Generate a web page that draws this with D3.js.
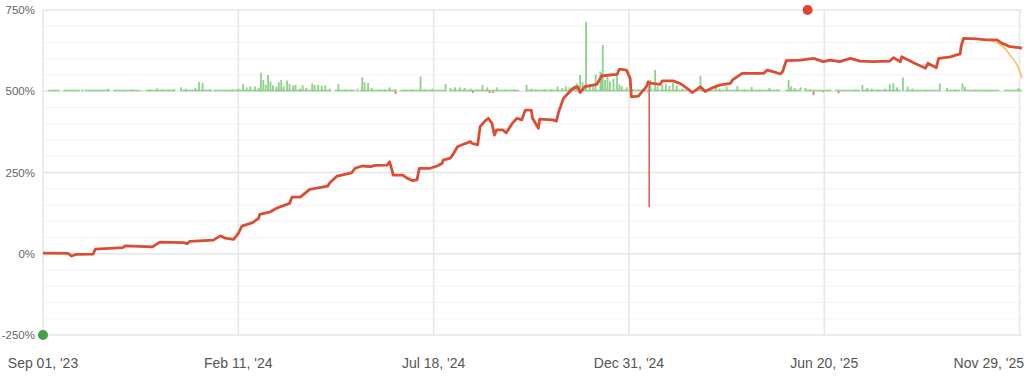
<!DOCTYPE html>
<html>
<head>
<meta charset="utf-8">
<script src="https://cdn.jsdelivr.net/npm/d3@7/dist/d3.min.js"></script>
<style>
  html, body { margin: 0; padding: 0; background: #fff; }
  svg { display: block; font-family: "Liberation Sans", Arial, sans-serif; }
</style>
</head>
<body>
<svg id="chart" width="1024" height="376"></svg>
<script>
// x values are day offsets from Sep 01 '23 on an evenly spaced axis
const tickLabels = ["Sep 01, '23", "Feb 11, '24", "Jul 18, '24", "Dec 31, '24", "Jun 20, '25", "Nov 29, '25"];
const tickDays = [0, 164, 328, 492, 656, 820];
const yMajor = [-250, 0, 250, 500, 750];

// cumulative return, %
const equityDays = [0, 21, 24, 28, 42, 44, 67, 69, 92, 98, 118, 121, 123, 143, 149, 153, 160, 164, 167, 176, 181, 182, 191, 196, 207, 209, 216,
  224, 239, 241, 247, 259, 262, 268, 275, 279, 289, 291, 293, 294, 302, 306, 310, 314, 316, 325, 331, 335, 336, 342, 344, 348, 353, 359, 360, 365,
  367, 371, 374, 377, 379, 381, 386, 389, 394, 398, 402, 405, 410, 411, 416, 417, 428, 431, 433, 437, 441, 445, 449, 451, 455, 465, 469, 476,
  482, 484, 490, 493, 494, 500, 503, 507, 508, 510, 518, 520, 529, 535, 542, 545, 549, 552, 556, 563, 568, 577, 579, 587, 605, 608, 616, 619,
  621, 624, 636, 647, 655, 661, 669, 678, 686, 697, 711, 714, 720, 721, 731, 741, 743, 750, 752, 762, 767, 770, 771, 773, 784, 792, 801, 805,
  812, 820, 822];
const equityValues = [2, 1, -7, -2, -1, 14, 19, 24, 21, 36, 34, 31, 38, 42, 55, 48, 44, 63, 85, 96, 109, 121, 129, 140, 155, 174, 174,
  198, 208, 219, 239, 249, 263, 270, 268, 272, 273, 283, 258, 242, 242, 232, 225, 227, 263, 263, 270, 278, 288, 294, 304, 329, 337, 345, 340, 335,
  391, 408, 417, 401, 365, 381, 381, 372, 401, 417, 412, 442, 442, 417, 386, 414, 412, 408, 437, 478, 494, 509, 514, 496, 514, 521, 547, 550,
  552, 568, 565, 540, 483, 485, 499, 516, 529, 525, 521, 532, 532, 524, 506, 496, 506, 514, 499, 512, 519, 524, 535, 555, 555, 565, 557, 553,
  560, 594, 596, 601, 591, 596, 591, 601, 593, 591, 593, 603, 591, 606, 588, 571, 586, 572, 601, 606, 612, 614, 640, 663, 661, 658, 658, 648,
  637, 634, 632];

// one-day drop that shows as a thin spike
const spikeDays = [509];
const spikeFrom = [527];
const spikeTo = [144];

// projection at the end
const projDays = [792, 797, 803, 808, 812, 816, 819, 822];
const projValues = [658, 655, 645, 630, 611, 592, 572, 541];

// daily returns drawn above the 500% line, %
const barDays = [5, 10, 18, 25, 33, 40, 47, 55, 60, 68, 75, 82, 90, 96, 100, 105, 110, 116, 120, 125, 128, 131,
  134, 140, 144, 153, 159, 164, 168, 171, 174, 178, 181, 183, 185, 187, 189, 191, 193, 196, 198, 200, 202, 205, 207, 210, 212, 216, 218, 221,
  226, 228, 231, 234, 237, 241, 248, 254, 259, 264, 268, 270, 273, 276, 283, 287, 291, 296, 304, 310, 317, 321, 327, 338, 342, 346, 350, 354,
  359, 365, 369, 373, 381, 388, 396, 406, 410, 414, 421, 427, 432, 436, 439, 442, 446, 448, 451, 453, 456, 459, 462, 464, 468, 469, 470, 472,
  474, 476, 479, 482, 484, 486, 490, 495, 500, 505, 510, 514, 516, 520, 523, 526, 529, 532, 537, 543, 552, 554, 560, 565, 568, 574, 583, 589,
  595, 602, 610, 617, 626, 628, 631, 636, 640, 644, 661, 673, 682, 688, 692, 696, 701, 707, 711, 714, 717, 722, 726, 730, 741, 753, 759, 766,
  772, 774, 783, 795, 808, 819];
const barValues = [4, 3, 5, 3, 6, 4, 3, 8, 5, 4, 6, 3, 5, 9, 6, 4, 7, 12, 8, 5, 10, 28,
  25, 6, 5, 4, 6, 8, 22, 12, 15, 14, 10, 57, 35, 20, 50, 30, 18, 14, 28, 35, 16, 33, 22, 18, 19, 8, 19, 10,
  24, 19, 19, 17, 18, 8, 22, 6, 5, 8, 43, 28, 25, 10, 5, 6, 12, 7, 5, 6, 45, 6, 8, 22, 10, 12, 12, 10,
  8, 5, 19, 12, 12, 5, 6, 20, 8, 6, 6, 7, 15, 10, 15, 12, 18, 25, 50, 28, 214, 20, 15, 52, 60, 56, 143, 35,
  45, 30, 38, 56, 20, 15, 12, 6, 6, 10, 35, 66, 15, 20, 22, 16, 25, 18, 8, 6, 47, 10, 6, 15, 8, 15, 16, 6,
  13, 5, 10, 5, 35, 15, 10, 12, 10, 6, 5, 4, 5, 19, 10, 8, 6, 8, 22, 25, 12, 42, 14, 8, 5, 24, 10, 6,
  24, 14, 5, 4, 5, 10];
// losing days
const lossDays = [296, 361, 375, 378, 647, 655, 668];
const lossValues = [-8, -5, -5, -5, -12, -3, -6];
// stretches of small flat gains along the 500% line [from, to]
const flatRuns = [[6, 14], [18, 31], [35, 56], [60, 81], [86, 111], [115, 142], [144, 241], [245, 262], [266, 296], [300, 338],
  [342, 400], [405, 442], [442, 518], [518, 543], [547, 619], [623, 636], [640, 661], [665, 686], [688, 720], [724, 753],
  [758, 770], [774, 803], [808, 822]];

// markers
const highDay = 642, highValue = 750;
const lowDay = 0, lowValue = -250;

const svg = d3.select("#chart");
const x = d3.scaleLinear().domain([0, 822]).range([43, 1022]);
const y = d3.scaleLinear().domain([-250, 750]).range([335, 10]);
const base = 500;

// minor grid every 50%
svg.append("g").selectAll("line")
  .data(d3.range(-250, 751, 50).filter(v => !yMajor.includes(v)))
  .join("line")
  .attr("x1", x(0)).attr("x2", x(822))
  .attr("y1", d => y(d)).attr("y2", d => y(d))
  .attr("stroke", "#f3f3f3").attr("stroke-width", 1);

svg.append("g").selectAll("line")
  .data(yMajor)
  .join("line")
  .attr("x1", x(0)).attr("x2", x(822))
  .attr("y1", d => y(d)).attr("y2", d => y(d))
  .attr("stroke", "#e6e6e6").attr("stroke-width", 1.5);

svg.append("g").selectAll("line")
  .data(tickDays)
  .join("line")
  .attr("x1", d => x(d)).attr("x2", d => x(d))
  .attr("y1", y(750)).attr("y2", y(-250))
  .attr("stroke", "#e6e6e6").attr("stroke-width", 1.5);

// y labels
svg.append("g").selectAll("text")
  .data(yMajor)
  .join("text")
  .attr("x", 35).attr("y", d => y(d))
  .attr("dy", "0.35em")
  .attr("text-anchor", "end")
  .attr("fill", "#666").attr("font-size", 11.5)
  .text(d => d + "%");

// x labels
svg.append("g").selectAll("text")
  .data(tickDays)
  .join("text")
  .attr("x", (d, i) => i === tickDays.length - 1 ? 1024 : x(d))
  .attr("y", 368)
  .attr("text-anchor", (d, i) => i === tickDays.length - 1 ? "end" : "middle")
  .attr("fill", "#555").attr("font-size", 14)
  .text((d, i) => tickLabels[i]);

// flat small gains
svg.append("g").selectAll("rect")
  .data(flatRuns)
  .join("rect")
  .attr("x", d => x(d[0]))
  .attr("width", d => x(d[1]) - x(d[0]))
  .attr("y", y(base) - 1.6)
  .attr("height", 1.6)
  .attr("fill", "#9ad596");

svg.append("g").selectAll("rect")
  .data(barDays.map((d, i) => [d, barValues[i]]))
  .join("rect")
  .attr("x", d => x(d[0]) - 0.9)
  .attr("width", 1.8)
  .attr("y", d => y(base + d[1]))
  .attr("height", d => y(base) - y(base + d[1]))
  .attr("fill", "#8fd08a");

svg.append("g").selectAll("rect")
  .data(lossDays.map((d, i) => [d, lossValues[i]]))
  .join("rect")
  .attr("x", d => x(d[0]) - 0.9)
  .attr("width", 1.8)
  .attr("y", y(base))
  .attr("height", d => y(base + d[1]) - y(base))
  .attr("fill", "#e57366");

// spike
svg.append("g").selectAll("line")
  .data(spikeDays)
  .join("line")
  .attr("x1", d => x(d)).attr("x2", d => x(d))
  .attr("y1", (d, i) => y(spikeFrom[i])).attr("y2", (d, i) => y(spikeTo[i]))
  .attr("stroke", "#e0604e").attr("stroke-width", 1.6);

// projection
svg.append("path")
  .datum(projDays.map((d, i) => [d, projValues[i]]))
  .attr("fill", "none")
  .attr("stroke", "#f2c14e").attr("stroke-width", 1.5)
  .attr("d", d3.line().x(d => x(d[0])).y(d => y(d[1])).curve(d3.curveMonotoneX));

// equity line
svg.append("path")
  .datum(equityDays.map((d, i) => [d, equityValues[i]]))
  .attr("fill", "none")
  .attr("stroke", "#db4e34").attr("stroke-width", 2.8)
  .attr("stroke-linejoin", "round")
  .attr("d", d3.line().x(d => x(d[0])).y(d => y(d[1])));

svg.append("circle")
  .attr("cx", x(highDay)).attr("cy", y(highValue)).attr("r", 5)
  .attr("fill", "#dd4433");
svg.append("circle")
  .attr("cx", x(lowDay)).attr("cy", y(lowValue)).attr("r", 5)
  .attr("fill", "#43a047");
</script>
</body>
</html>
